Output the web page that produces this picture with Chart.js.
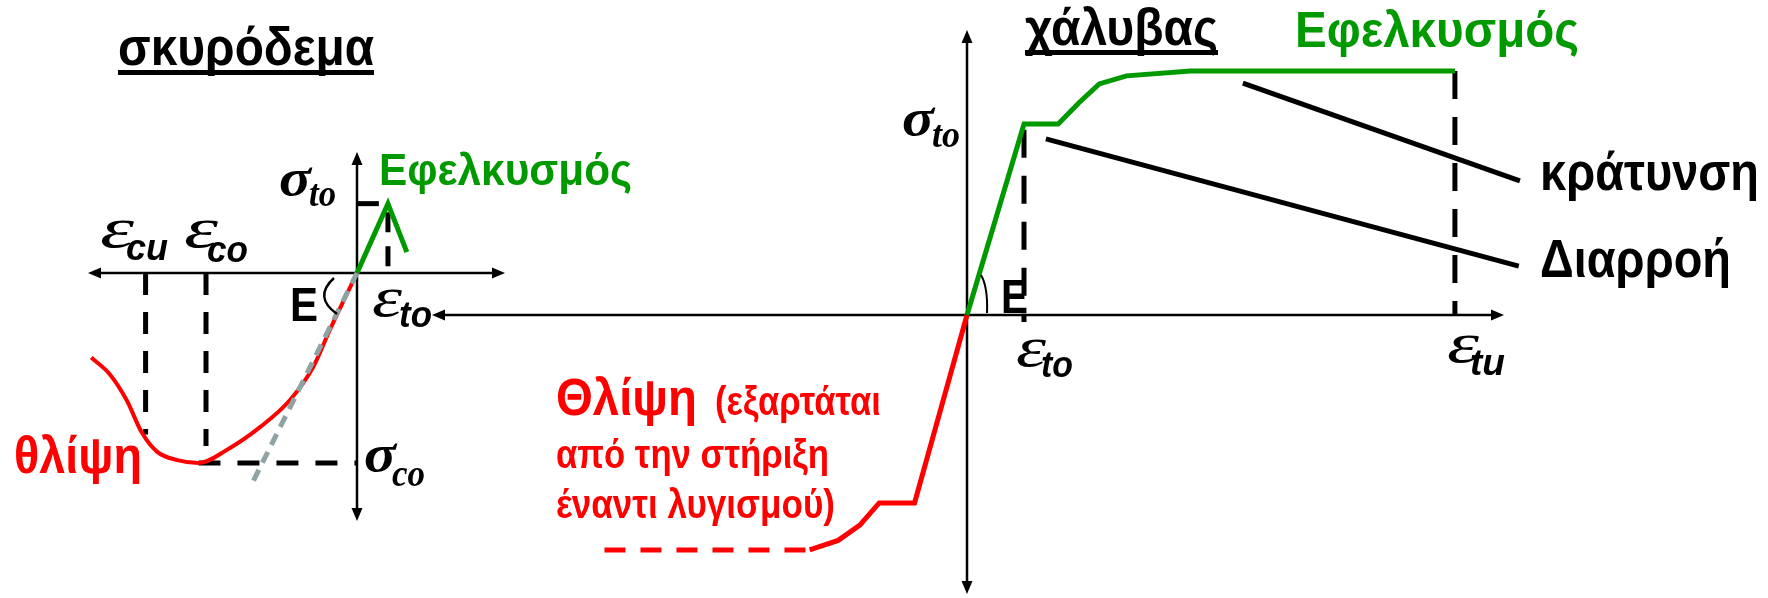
<!DOCTYPE html>
<html>
<head>
<meta charset="utf-8">
<script src="https://cdn.jsdelivr.net/npm/chart.js@4.4.1/dist/chart.umd.min.js"></script>
<style>
  body { margin: 0; background: #fff; }
  canvas { display: block; }
</style>
</head>
<body>
<canvas id="diagram" width="1768" height="598"></canvas>
<script>
// Σκυρόδεμα: ε σε ‰, σ σε MPa (σχηματικό διάγραμμα)
const concreteCompression = [[-3.52, -8.9], [-3.27, -10.7], [-3.05, -13.4], [-2.85, -16.8], [-2.65, -18.8],
  [-2.38, -19.7], [-2.1, -20], [-1.72, -18.6], [-1.28, -16.2], [-0.89, -13.4], [-0.58, -9.9],
  [-0.36, -6.0], [-0.17, -2.8], [0, 0]];
const concreteTension = [[0, 0], [0.41, 7.3], [0.66, 2.2]];
const concreteTangent = [[0, 0], [-1.38, -22]];
const eps_cu = -2.8, eps_co = -2.0, eps_to = 0.41;
const sigma_co = -20, sigma_to = 7.3;

// Χάλυβας: ε σε ‰, σ σε MPa
const steelTension = [[0, 0], [2.5, 500], [4.0, 500], [4.9, 555], [5.8, 605], [7.0, 626], [9.8, 639], [21.4, 639]];
const steelCompression = [[-6.9, -615], [-5.65, -590], [-4.7, -550], [-3.85, -492], [-2.3, -492], [0, 0]];
const steelCompressionTail = [[-15.9, -615], [-6.9, -615]];
const hardeningLine = [[12.1, 607], [24.25, 351]];
const yieldLine = [[3.46, 461], [24.2, 128]];
const steel_eps_to = 2.5, steel_eps_tu = 21.4, steel_sigma_u = 639;

const W = 1768, H = 598;
const GREEN = '#009a00', RED = '#ff0000', GREY = '#8fa3a3';

const pts = arr => arr.map(([x, y]) => ({ x, y }));

// origin pixel + pixels per unit -> min/max so that the hidden scale lands there
function range(origin, perUnit, size, flip) {
  if (flip) return { min: -(size - origin) / perUnit, max: origin / perUnit };
  return { min: -origin / perUnit, max: (size - origin) / perUnit };
}

function line(data, color, width, extra, xAxis, yAxis) {
  return Object.assign({
    data: pts(data), borderColor: color, backgroundColor: color, borderWidth: width,
    showLine: true, pointRadius: 0, fill: false, xAxisID: xAxis, yAxisID: yAxis
  }, extra || {});
}
const C = (d, c, w, e) => line(d, c, w, e, 'xc', 'yc');
const S = (d, c, w, e) => line(d, c, w, e, 'xs', 'ys');
const DASH = [22, 17];

const datasets = [
  C(concreteTangent, GREY, 5, { borderDash: [12, 8], order: 0 }),
  C(concreteCompression, RED, 4, { cubicInterpolationMode: 'monotone', order: 1 }),
  C(concreteTension, GREEN, 5, { order: 1 }),
  C([[eps_cu, 0], [eps_cu, -17]], '#000', 5, { borderDash: DASH, order: 2 }),
  C([[eps_co, 0], [eps_co, -18.2]], '#000', 5, { borderDash: DASH, order: 2 }),
  C([[-2.1, sigma_co], [0, sigma_co]], '#000', 5, { borderDash: DASH, order: 2 }),
  C([[eps_to, 6.4], [eps_to, 0.3]], '#000', 5, { borderDash: [20, 14], order: 2 }),
  C([[0, sigma_to], [0.29, sigma_to]], '#000', 5, { order: 2 }),

  S(steelTension, GREEN, 5, { order: 1 }),
  S(steelCompression, RED, 5, { order: 1 }),
  S(steelCompressionTail, RED, 5, { borderDash: [21, 15], order: 1 }),
  S(hardeningLine, '#000', 5, { order: 1 }),
  S(yieldLine, '#000', 5, { order: 1 }),
  S([[steel_eps_to, 485], [steel_eps_to, -18]], '#000', 5, { borderDash: [28, 18], order: 2 }),
  S([[steel_eps_tu, steel_sigma_u], [steel_eps_tu, 0]], '#000', 5, { borderDash: [28, 18], order: 2 })
];

function arrowHead(ctx, x, y, dir) {
  const L = 13, hw = 5.5;
  const [dx, dy] = { l: [-1, 0], r: [1, 0], u: [0, -1], d: [0, 1] }[dir];
  ctx.beginPath();
  ctx.moveTo(x, y);
  ctx.lineTo(x - dx * L - dy * hw, y - dy * L - dx * hw);
  ctx.lineTo(x - dx * L + dy * hw, y - dy * L + dx * hw);
  ctx.closePath();
  ctx.fill();
}

function axisCross(ctx, ox, oy, left, right, top, bottom) {
  ctx.save();
  ctx.strokeStyle = '#000';
  ctx.fillStyle = '#000';
  ctx.lineWidth = 2.5;
  ctx.beginPath();
  ctx.moveTo(left + 8, oy); ctx.lineTo(right - 8, oy);
  ctx.moveTo(ox, top + 8); ctx.lineTo(ox, bottom - 8);
  ctx.stroke();
  arrowHead(ctx, left, oy, 'l');
  arrowHead(ctx, right, oy, 'r');
  arrowHead(ctx, ox, top, 'u');
  arrowHead(ctx, ox, bottom, 'd');
  ctx.restore();
}

const SANS = '"Liberation Sans", Arial, sans-serif';
const SERIF = '"Liberation Serif", "Times New Roman", serif';

// text drawn with `font` and stretched/squeezed to `width`
function fitted(ctx, str, x, y, font, width, color) {
  ctx.font = font;
  const k = width / ctx.measureText(str).width;
  ctx.save();
  ctx.translate(x, y);
  ctx.scale(k, 1);
  ctx.fillStyle = color || '#000';
  ctx.fillText(str, 0, 0);
  ctx.restore();
}

const label = (ctx, str, x, y, size, width, color) =>
  fitted(ctx, str, x, y, 'bold ' + size + 'px ' + SANS, width, color);

function underlined(ctx, str, x, y, size, width) {
  label(ctx, str, x, y, size, width);
  ctx.fillStyle = '#000';
  ctx.fillRect(x, y + 5, width, 5);
}

// ε / σ with subscript: [x, y, width] for the letter and for the index
function symbol(ctx, main, sub, m, s, serifSub) {
  const mainFont = main === 'σ' ? 'italic bold 52px ' + SERIF : 'italic 56px ' + SERIF;
  fitted(ctx, main, m[0], m[1], mainFont, m[2]);
  const subFont = serifSub ? 'italic bold 38px ' + SERIF : 'italic bold 36px ' + SANS;
  fitted(ctx, sub, s[0], s[1], subFont, s[2]);
}

const decorations = {
  id: 'decorations',
  beforeDatasetsDraw(chart) {
    const { ctx, scales } = chart;
    const cx = scales.xc.getPixelForValue(0), cy = scales.yc.getPixelForValue(0);
    const sx = scales.xs.getPixelForValue(0), sy = scales.ys.getPixelForValue(0);
    axisCross(ctx, cx, cy, 88, 505, 152, 521);
    axisCross(ctx, sx, sy, 432, 1504, 30, 594);
  },
  afterDatasetsDraw(chart) {
    const { ctx, scales } = chart;
    const cx = scales.xc.getPixelForValue(0), cy = scales.yc.getPixelForValue(0);
    const sx = scales.xs.getPixelForValue(0), sy = scales.ys.getPixelForValue(0);
    ctx.save();
    ctx.textBaseline = 'alphabetic';

    // angle marks for E
    ctx.strokeStyle = '#000';
    ctx.lineWidth = 2.5;
    ctx.beginPath();
    ctx.moveTo(cx - 23, cy + 5);
    ctx.quadraticCurveTo(cx - 44, cy + 24, cx - 20, cy + 41);
    ctx.stroke();
    ctx.lineWidth = 2;
    ctx.beginPath();
    ctx.moveTo(sx + 14, sy - 40);
    ctx.quadraticCurveTo(sx + 21, sy - 28, sx + 20, sy - 2);
    ctx.stroke();

    // σκυρόδεμα
    underlined(ctx, 'σκυρόδεμα', 118, 65, 54, 256);
    label(ctx, 'Εφελκυσμός', 379, 185, 44, 253, GREEN);
    symbol(ctx, 'σ', 'to', [279, 195, 32], [309, 206, 27], true);
    symbol(ctx, 'ε', 'cu', [100, 247, 34], [126, 260, 42]);
    symbol(ctx, 'ε', 'co', [184, 247, 34], [207, 262, 41]);
    label(ctx, 'E', 290, 321, 48, 28);
    symbol(ctx, 'ε', 'to', [372, 316, 30], [399, 327, 33]);
    symbol(ctx, 'σ', 'co', [364, 471, 32], [392, 486, 33], true);
    label(ctx, 'θλίψη', 14, 473, 52, 128, RED);

    // χάλυβας
    underlined(ctx, 'χάλυβας', 1025, 45, 52, 193);
    label(ctx, 'Εφελκυσμός', 1295, 47, 50, 284, GREEN);
    symbol(ctx, 'σ', 'to', [902, 135, 32], [932, 147, 28], true);
    label(ctx, 'E', 1001, 313, 48, 27);
    symbol(ctx, 'ε', 'to', [1016, 366, 30], [1041, 377, 32]);
    symbol(ctx, 'ε', 'tu', [1447, 362, 32], [1470, 375, 35]);
    label(ctx, 'κράτυνση', 1540, 190, 54, 219);
    label(ctx, 'Διαρροή', 1540, 277, 54, 191);

    label(ctx, 'Θλίψη', 556, 415, 52, 141, RED);
    label(ctx, '(εξαρτάται', 715, 415, 40, 166, RED);
    label(ctx, 'από την στήριξη', 556, 468, 40, 273, RED);
    label(ctx, 'έναντι λυγισμού)', 556, 518, 40, 279, RED);
    ctx.restore();
  }
};

const xc = range(357, 75.5, W), yc = range(273, 9.5, H, true);
const xs = range(967, 22.8, W), ys = range(315, 0.382, H, true);
const hidden = r => Object.assign({ type: 'linear', display: false }, r);

new Chart(document.getElementById('diagram'), {
  type: 'scatter',
  data: { datasets },
  options: {
    responsive: false,
    animation: false,
    layout: { padding: 0 },
    plugins: { legend: { display: false }, tooltip: { enabled: false } },
    scales: { xc: hidden(xc), yc: hidden(yc), xs: hidden(xs), ys: hidden(ys) }
  },
  plugins: [decorations]
});
</script>
</body>
</html>
